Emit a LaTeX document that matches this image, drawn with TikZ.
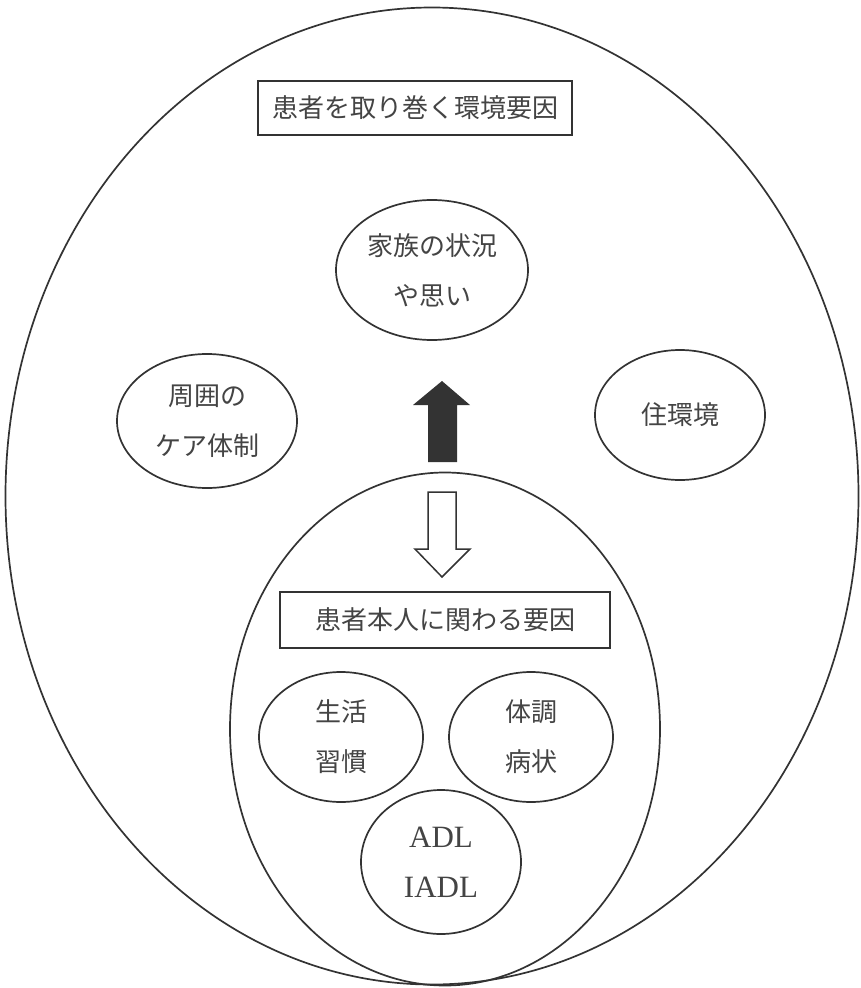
\documentclass[tikz,border=0pt]{standalone}
\usepackage{fontspec}
\setmainfont{Liberation Serif}
\newfontfamily\jp{Noto Sans CJK JP}
\usetikzlibrary{shapes.geometric}
\definecolor{ink}{HTML}{333333}
\definecolor{txt}{HTML}{444444}
\begin{document}
\begin{tikzpicture}[x=1pt,y=-1pt,
  oval/.style={ellipse, draw=ink, line width=1.7pt, inner sep=0pt, align=center, text=txt,
    font=\jp\fontsize{26}{50}\selectfont},
  titlebox/.style={rectangle, draw=ink, line width=1.7pt, inner sep=0pt, text=txt,
    font=\jp\fontsize{26}{30}\selectfont},
  arr/.style={draw=ink, line width=1.5pt, line join=miter}]
\useasboundingbox (0,0) rectangle (860,988);
\node[oval, minimum width=853pt, minimum height=977pt] (outer) at (432,496) {};
\node[oval, minimum width=430pt, minimum height=513pt] (inner) at (445,729) {};
\node[titlebox, minimum width=314pt, minimum height=54pt] (envtitle) at (415,108) {患者を取り巻く環境要因};
\node[oval, minimum width=192pt, minimum height=140pt] (family) at (432,270) {家族の状況\\や思い};
\node[oval, minimum width=180pt, minimum height=134pt] (care) at (207,421) {周囲の\\ケア体制};
\node[oval, minimum width=170pt, minimum height=130pt] (house) at (680,415) {住環境};
\node[titlebox, minimum width=330pt, minimum height=56pt] (selftitle) at (445,620) {患者本人に関わる要因};
\node[oval, minimum width=164pt, minimum height=130pt] (life) at (341,737) {生活\\習慣};
\node[oval, minimum width=164pt, minimum height=130pt] (body) at (531,737) {体調\\病状};
\node[oval, minimum width=160pt, minimum height=144pt, font=\fontsize{31}{50}\selectfont] (adl) at (441,862) {ADL\\IADL};
% up arrow (black)
\fill[ink] (442,381) -- (470,405) -- (457,405) -- (457,462) -- (428,462) -- (428,405) -- (413,405) -- cycle;
% down arrow (white)
\draw[arr, fill=white] (428,492) -- (456,492) -- (456,549) -- (470,549) -- (442,577) -- (415,549) -- (428,549) -- cycle;
\end{tikzpicture}
\end{document}
